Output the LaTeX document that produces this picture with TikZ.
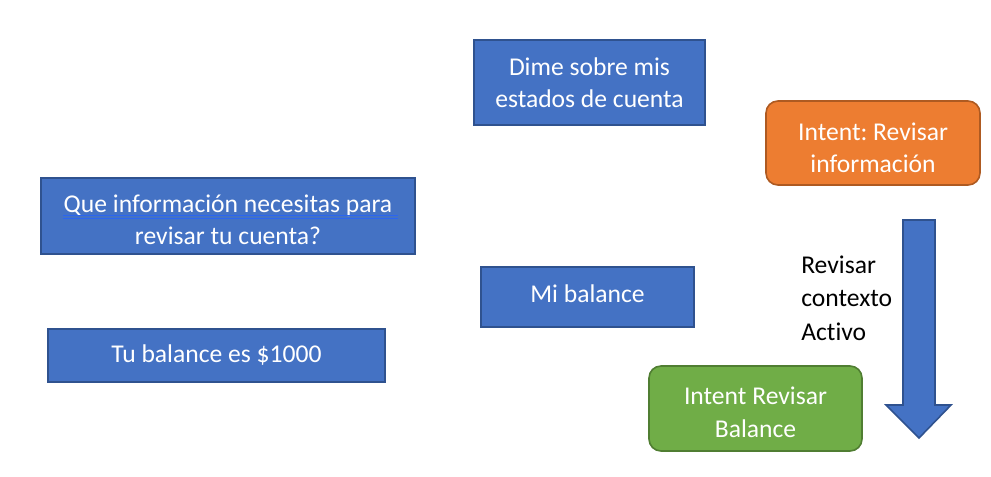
\documentclass[tikz,border=0pt]{standalone}
\usepackage{fontspec}
\setmainfont{Carlito}[Ligatures=NoCommon]
\frenchspacing

\definecolor{msgfill}{HTML}{4472C4}
\definecolor{msgline}{HTML}{2F528F}
\definecolor{infofill}{HTML}{ED7D31}
\definecolor{infoline}{HTML}{AE5A21}
\definecolor{balfill}{HTML}{70AD47}
\definecolor{balline}{HTML}{507E32}
\definecolor{spellblue}{HTML}{2C66F0}

\begin{document}
\begin{tikzpicture}[x=0.75pt,y=-0.75pt,
  msg/.style={rectangle,draw=msgline,fill=msgfill,line width=1.2pt,inner sep=0pt},
  intent/.style={msg,rounded corners=9pt},
  txt/.style={text=white,align=center,inner sep=0pt,font=\fontsize{19.2}{24.4}\selectfont},
  note/.style={align=left,inner sep=0pt,anchor=west,font=\fontsize{19.2}{25}\selectfont},
  spell/.style={spellblue,line width=0.8pt}]
\useasboundingbox (0,0) rectangle (991,476);

% mensajes del usuario y del bot
\node[msg,minimum width=173.25pt,minimum height=63.75pt,
  label={[txt]center:{Dime sobre mis\\estados de cuenta}}] (dime) at (589.5,82.5) {};
\node[msg,minimum width=280.5pt,minimum height=57pt,
  label={[txt,yshift=-3pt]center:{Que información necesitas para\\revisar tu cuenta?}}] (quien) at (228,216) {};
\node[msg,minimum width=159.75pt,minimum height=45pt,
  label={[txt,yshift=2.25pt]center:{Mi balance}}] (mibal) at (587.5,297) {};
\node[msg,minimum width=252.75pt,minimum height=39.75pt,
  label={[txt]center:{Tu balance es \$1000}}] (tubal) at (216.5,355.5) {};

% intents
\node[intent,fill=infofill,draw=infoline,minimum width=160.5pt,minimum height=63pt,
  label={[txt,yshift=-3.75pt]center:{Intent: Revisar\\información}}] (revinfo) at (873,143) {};
\node[intent,fill=balfill,draw=balline,minimum width=159.75pt,minimum height=63.75pt,
  label={[txt,yshift=-3pt]center:{Intent Revisar\\Balance}}] (revbal) at (755.5,408.5) {};

\node[note] (ctx) at (801,298) {Revisar\\contexto\\Activo};

% flecha
\draw[draw=msgline,fill=msgfill,line width=1.2pt,line join=miter]
  (903,220) -- (935,220) -- (935,405) -- (951,405) -- (919,438)
  -- (886,405) -- (903,405) -- cycle;

% subrayado
\draw[spell] ([shift={(-165,-0.5)}]quien.center) -- ([shift={(170,-0.5)}]quien.center);
\draw[spell] ([shift={(-165,2.5)}]quien.center) -- ([shift={(170,2.5)}]quien.center);
\end{tikzpicture}
\end{document}
